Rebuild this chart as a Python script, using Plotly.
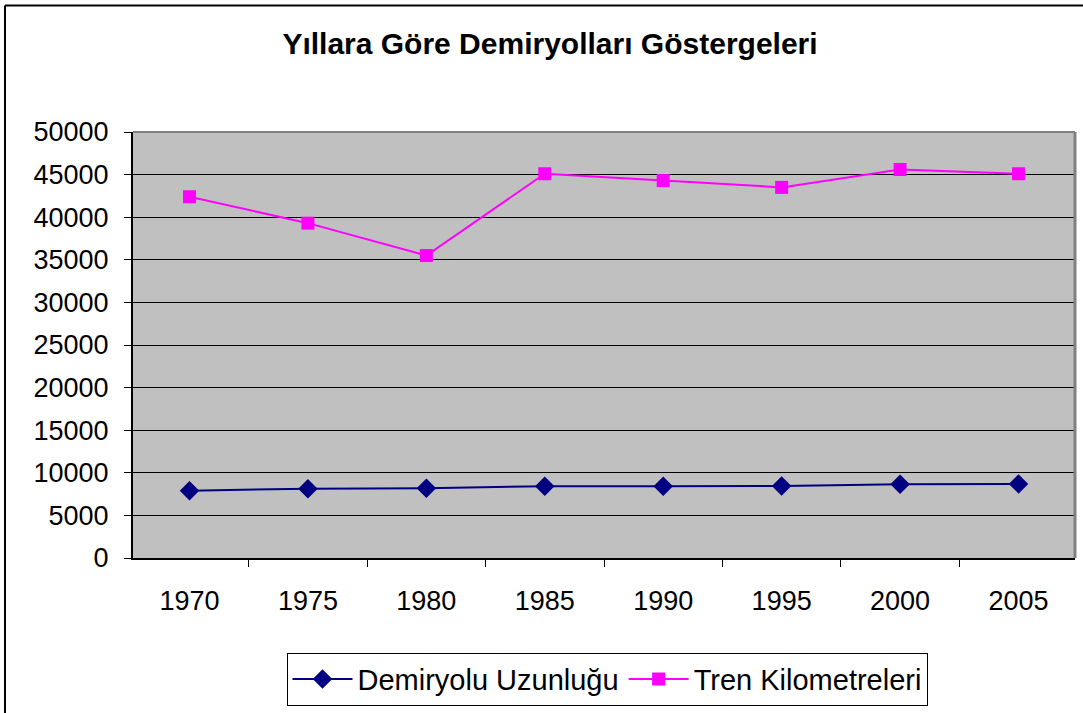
import plotly.graph_objects as go

years = ["1970", "1975", "1980", "1985", "1990", "1995", "2000", "2005"]
demiryolu_uzunlugu = [7900, 8140, 8190, 8430, 8430, 8450, 8670, 8700]
tren_kilometreleri = [42400, 39300, 35500, 45100, 44300, 43500, 45600, 45100]
y_ticks = [0, 5000, 10000, 15000, 20000, 25000, 30000, 35000, 40000, 45000, 50000]

FONT = "Liberation Sans, Arial, sans-serif"

fig = go.Figure()
fig.add_trace(go.Scatter(
    x=years, y=demiryolu_uzunlugu, name="Demiryolu Uzunluğu",
    mode="lines+markers",
    line=dict(color="#000080", width=2),
    marker=dict(symbol="diamond", size=15, color="#000080"),
))
fig.add_trace(go.Scatter(
    x=years, y=tren_kilometreleri, name="Tren Kilometreleri",
    mode="lines+markers",
    line=dict(color="#FF00FF", width=2),
    marker=dict(symbol="square", size=13, color="#FF00FF"),
))

L, R, T, B = 133, 8, 132, 153
W, H = 1083, 713
pw, ph = W - L - R, H - T - B

fig.update_layout(
    width=W, height=H,
    margin=dict(l=L, r=R, t=T, b=B, pad=0),
    paper_bgcolor="white",
    plot_bgcolor="#C0C0C0",
    font=dict(family=FONT, size=27, color="black"),
    title=dict(
        text="<b>Yıllara Göre Demiryolları Göstergeleri</b>",
        font=dict(family=FONT, size=30, color="black"),
        x=550 / W, xanchor="center",
        y=1 - 43 / H, yanchor="middle",
    ),
    showlegend=True,
    legend=dict(
        orientation="h",
        x=(607 - L) / pw, xanchor="center",
        y=(H - B - 655) / ph, yanchor="top",
        bordercolor="black", borderwidth=1,
        bgcolor="white",
        font=dict(family=FONT, size=29, color="black"),
        itemwidth=60,
        tracegroupgap=0,
    ),
    xaxis=dict(
        type="category",
        tickson="boundaries",
        ticks="outside", ticklen=7, tickcolor="black", tickwidth=1,
        showgrid=False,
        showline=True, linecolor="black", linewidth=2,
        tickfont=dict(family=FONT, size=27, color="black"),
        ticklabelstandoff=18,
    ),
    yaxis=dict(
        range=[0, 50000],
        tickvals=y_ticks,
        ticktext=[str(v) for v in y_ticks],
        ticks="outside", ticklen=7, tickcolor="black", tickwidth=1,
        showgrid=True, gridcolor="black", gridwidth=1,
        zeroline=False,
        showline=True, linecolor="black", linewidth=2,
        tickfont=dict(family=FONT, size=27, color="black"),
        ticklabelstandoff=10,
    ),
    shapes=[
        # gray top and right border of plot area
        dict(type="line", xref="paper", yref="paper", x0=0, x1=1, y0=1, y1=1,
             line=dict(color="#808080", width=2)),
        dict(type="line", xref="paper", yref="paper", x0=1, x1=1, y0=0, y1=1,
             line=dict(color="#808080", width=3)),
        # outer chart frame (left and top visible)
        dict(type="line", xref="paper", yref="paper",
             x0=(5 - L) / pw, x1=(5 - L) / pw, y0=-1, y1=(H - B - 5) / ph,
             line=dict(color="black", width=2)),
        dict(type="line", xref="paper", yref="paper",
             x0=(5 - L) / pw, x1=1.5, y0=(H - B - 5) / ph, y1=(H - B - 5) / ph,
             line=dict(color="black", width=2)),
    ],
)

fig.write_html(
    "out.html",
    config={"displayModeBar": False},
    post_script="document.body.style.margin='0px';document.body.style.overflow='hidden';",
)
